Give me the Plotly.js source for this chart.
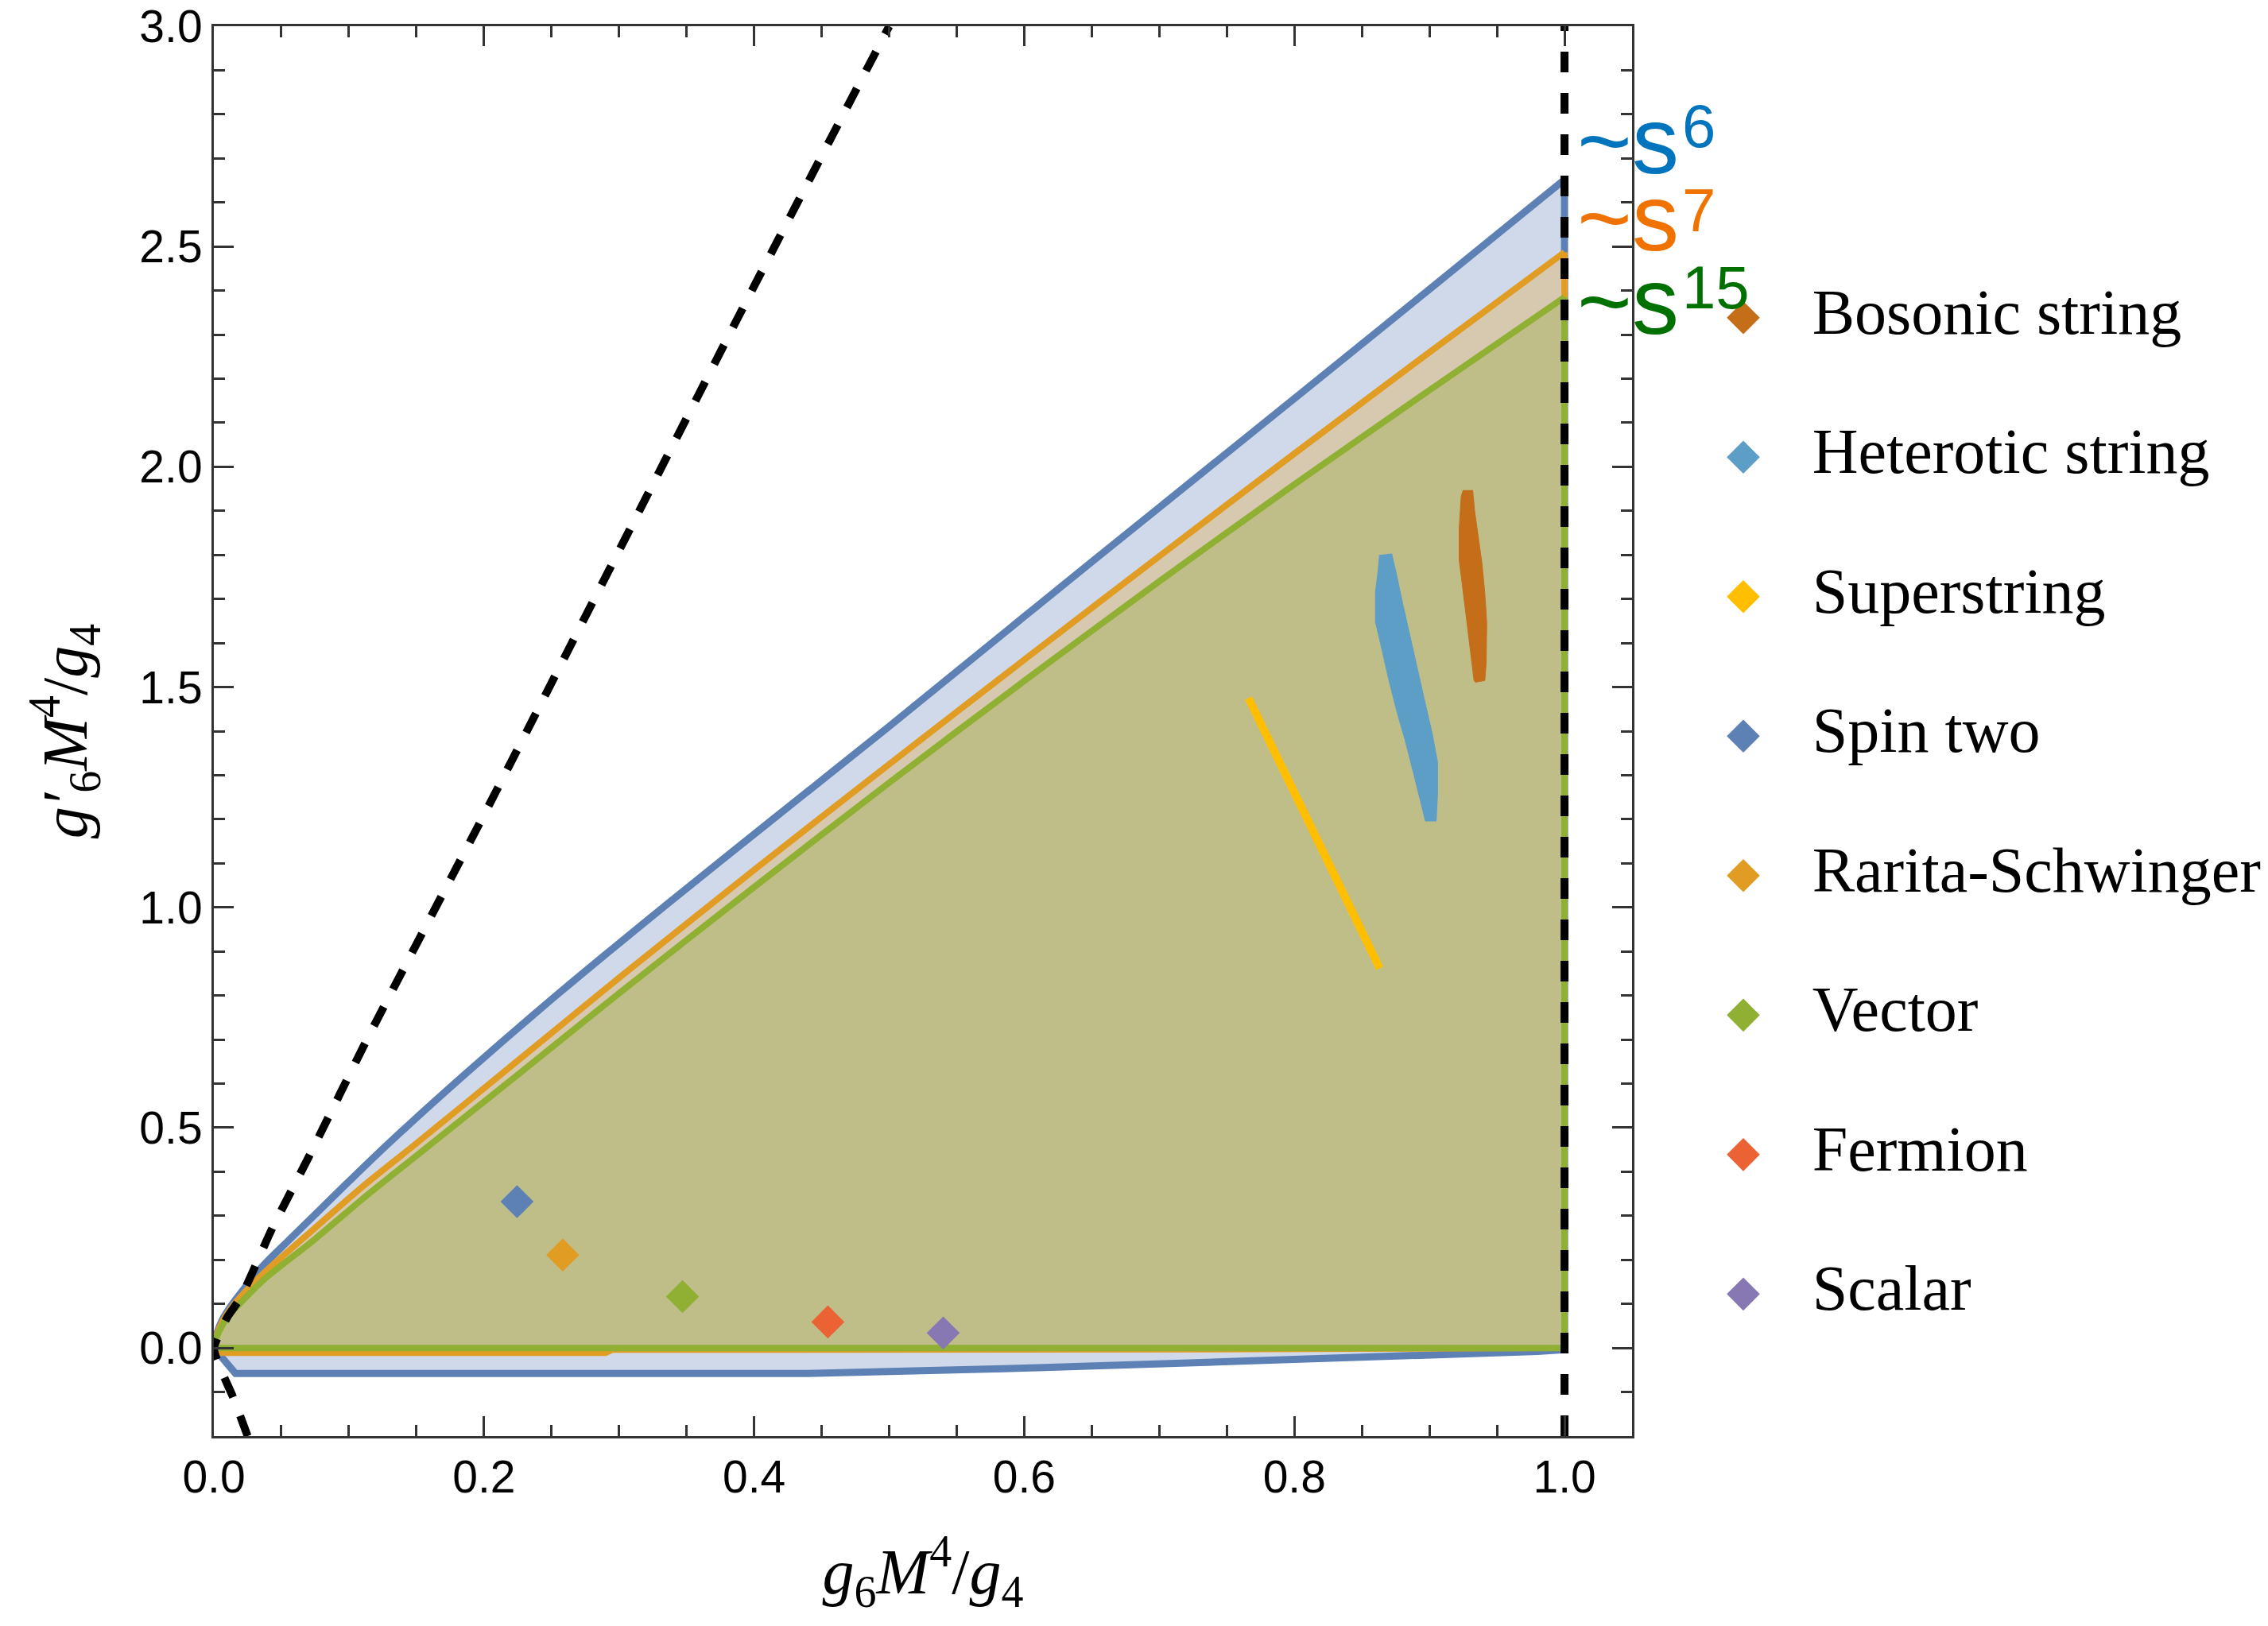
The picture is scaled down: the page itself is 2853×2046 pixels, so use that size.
<!DOCTYPE html>
<html>
<head>
<meta charset="utf-8">
<script src="https://cdn.plot.ly/plotly-3.0.1.min.js"></script>
<style>html,body{margin:0;padding:0;background:#fff;}#chart{width:2853px;height:2046px;}</style>
</head>
<body>
<div id="chart"></div>
<script>
// ---------- data ----------
// ~s^6 region (blue)
const s6UpperX = [0, 0.002, 0.006, 0.012, 0.02, 0.036, 0.055, 0.076, 0.1, 0.13, 0.187, 0.255, 0.337, 0.412, 0.5, 0.6, 0.7, 0.8, 0.9, 1.0];
const s6UpperY = [0, 0.03, 0.062, 0.092, 0.125, 0.185, 0.243, 0.306, 0.378, 0.466, 0.624, 0.804, 1.011, 1.1955, 1.411, 1.66, 1.908, 2.155, 2.403, 2.652];
const s6LowerX = [1.0, 0.98, 0.91, 0.76, 0.61, 0.5, 0.44, 0.016, 0];
const s6LowerY = [-0.004, -0.008, -0.016, -0.03, -0.045, -0.052, -0.058, -0.058, 0];
// ~s^7 region (orange)
const s7UpperX = [0, 0.002, 0.006, 0.012, 0.02, 0.037, 0.074, 0.11, 0.149, 0.225, 0.3, 0.4, 0.5, 0.6, 0.7, 0.8, 0.9, 1.0];
const s7UpperY = [0, 0.028, 0.058, 0.087, 0.117, 0.17, 0.27, 0.366, 0.462, 0.652, 0.84, 1.085, 1.325, 1.562, 1.797, 2.03, 2.26, 2.487];
const s7LowerX = [1.0, 0.74, 0.295, 0.29, 0.006, 0];
const s7LowerY = [0, -0.003, -0.004, -0.011, -0.011, 0];
// ~s^15 region (green)
const s15UpperX = [0, 0.002, 0.006, 0.012, 0.02, 0.037, 0.074, 0.11, 0.149, 0.225, 0.3, 0.4, 0.5, 0.6, 0.7, 0.8, 0.9, 1.0];
const s15UpperY = [0, 0.024, 0.05, 0.076, 0.103, 0.155, 0.245, 0.338, 0.434, 0.62, 0.805, 1.046, 1.283, 1.514, 1.74, 1.96, 2.174, 2.385];
const s15LowerX = [1.0, 0];
const s15LowerY = [0, 0];
// string theory regions
const bosonicX = [0.925, 0.9235, 0.922, 0.922, 0.924, 0.925, 0.928, 0.930, 0.931, 0.933, 0.934, 0.941, 0.942, 0.9424, 0.9418, 0.9409, 0.9389, 0.9359, 0.9334, 0.932];
const bosonicY = [1.947, 1.933, 1.860, 1.788, 1.740, 1.716, 1.636, 1.587, 1.563, 1.515, 1.511, 1.515, 1.555, 1.644, 1.676, 1.716, 1.780, 1.848, 1.901, 1.947];
const heteroticX = [0.863, 0.862, 0.860, 0.860, 0.864, 0.870, 0.876, 0.882, 0.888, 0.894, 0.897, 0.905, 0.906, 0.906, 0.902, 0.896, 0.890, 0.884, 0.880, 0.875, 0.872];
const heteroticY = [1.800, 1.764, 1.716, 1.648, 1.596, 1.515, 1.443, 1.379, 1.307, 1.234, 1.196, 1.196, 1.258, 1.330, 1.395, 1.475, 1.555, 1.636, 1.692, 1.764, 1.803];
const superX = [0.766, 0.8632];
const superY = [1.475, 0.8615];
// field theory points
const pointNames = ["Spin two", "Rarita-Schwinger", "Vector", "Fermion", "Scalar"];
const pointX = [0.2245, 0.2583, 0.347, 0.4546, 0.540];
const pointY = [0.332, 0.211, 0.1167, 0.059, 0.034];
const pointColors = ["#5e81b5", "#e19c24", "#8fb032", "#eb6235", "#8778b3"];
// dashed bounds
const dashCurveX = [0.025, 0.014, 0.006, 0.0015, 0, 0.003, 0.01, 0.02, 0.043, 0.07, 0.116, 0.2, 0.3, 0.4, 0.5];
const dashCurveY = [-0.2, -0.11, -0.055, -0.02, 0, 0.025, 0.07, 0.115, 0.27, 0.432, 0.716, 1.21, 1.81, 2.41, 3.0];
const dashVertX = [1, 1];
const dashVertY = [-0.2, 3.0];
// axis ticks
const xTickVals = [0, 0.2, 0.4, 0.6, 0.8, 1.0];
const xTickText = ["0.0", "0.2", "0.4", "0.6", "0.8", "1.0"];
const yTickVals = [0, 0.5, 1.0, 1.5, 2.0, 2.5, 3.0];
const yTickText = ["0.0", "0.5", "1.0", "1.5", "2.0", "2.5", "3.0"];
// growth labels
const growthBase = ["~s", "~s", "~s"];
const growthPower = ["6", "7", "15"];
const growthColors = ["rgb(0,116,188)", "rgb(240,114,0)", "rgb(0,112,0)"];
// legend
const legendNames = ["Bosonic string", "Heterotic string", "Superstring", "Spin two", "Rarita-Schwinger", "Vector", "Fermion", "Scalar"];
const legendColors = ["#c56e1a", "#5d9ec7", "#ffbf00", "#5e81b5", "#e19c24", "#8fb032", "#eb6235", "#8778b3"];
const legendIndex = [0, 1, 2, 3, 4, 5, 6, 7];

// ---------- traces ----------
function regionTraces(ux, uy, lx, ly, fill, line, w) {
  return [
    {x: ux.concat(lx), y: uy.concat(ly), type: 'scatter', mode: 'lines', fill: 'toself',
     fillcolor: fill, line: {width: 0}, hoverinfo: 'skip', showlegend: false},
    {x: [ux[ux.length - 1]].concat(lx), y: [uy[uy.length - 1]].concat(ly), type: 'scatter', mode: 'lines',
     line: {color: line, width: w}, hoverinfo: 'skip', showlegend: false},
    {x: ux, y: uy, type: 'scatter', mode: 'lines',
     line: {color: line, width: w, shape: 'spline', smoothing: 0.8}, hoverinfo: 'skip', showlegend: false}
  ];
}
const traces = [].concat(
  regionTraces(s6UpperX, s6UpperY, s6LowerX, s6LowerY, 'rgb(207,217,234)', '#5e81b5', 9),
  regionTraces(s7UpperX, s7UpperY, s7LowerX, s7LowerY, 'rgb(214,201,176)', '#e19c24', 8),
  regionTraces(s15UpperX, s15UpperY, s15LowerX, s15LowerY, 'rgb(191,190,137)', '#8fb032', 8),
  [
  {x: bosonicX, y: bosonicY, type: 'scatter', mode: 'lines', fill: 'toself', fillcolor: '#c56e1a',
   line: {color: '#c56e1a', width: 1}, showlegend: false},
  {x: heteroticX, y: heteroticY, type: 'scatter', mode: 'lines', fill: 'toself', fillcolor: '#5d9ec7',
   line: {color: '#5d9ec7', width: 1}, showlegend: false},
  {x: superX, y: superY, type: 'scatter', mode: 'lines', line: {color: '#ffbf00', width: 10}, showlegend: false},
  {x: pointX, y: pointY, text: pointNames, type: 'scatter', mode: 'markers',
   marker: {symbol: 'diamond', size: 32, color: pointColors, line: {width: 0}}, showlegend: false},
  {x: dashCurveX, y: dashCurveY, type: 'scatter', mode: 'lines',
   line: {color: '#000', width: 10, dash: '27px,25px', shape: 'spline', smoothing: 0.5}, showlegend: false},
  {x: dashVertX, y: dashVertY, type: 'scatter', mode: 'lines',
   line: {color: '#000', width: 10, dash: '26px,26px'}, showlegend: false},
  // custom legend
  {x: legendIndex.map(() => 0.063), y: legendIndex, type: 'scatter', mode: 'markers', xaxis: 'x2', yaxis: 'y2',
   marker: {symbol: 'diamond', size: 32, color: legendColors}, showlegend: false, hoverinfo: 'skip', cliponaxis: false},
  {x: legendIndex.map(() => 0.19), y: legendIndex, text: legendNames, type: 'scatter', mode: 'text',
   textposition: 'middle right', xaxis: 'x2', yaxis: 'y2', cliponaxis: false,
   textfont: {family: 'Liberation Serif, Times New Roman, serif', size: 80, color: '#000'},
   showlegend: false, hoverinfo: 'skip'}
  ]
);

const axisCommon = {
  showgrid: false, zeroline: false, showline: true, linecolor: '#333', linewidth: 3,
  mirror: 'allticks', ticks: 'inside', ticklen: 25, tickwidth: 3, tickcolor: '#333',
  tickfont: {family: 'Liberation Sans, Arial, sans-serif', size: 57, color: '#000'},
  tickmode: 'array', ticklabeloverflow: 'allow'
};

// growth label positions (y of text box bottom), in data units
const baseY = [2.655, 2.48, 2.291];
const powY = [2.717, 2.525, 2.35];
const annotations = [];
for (let i = 0; i < 3; i++) {
  annotations.push({xref: 'x', yref: 'y', x: 1.0, y: baseY[i], xanchor: 'left', yanchor: 'bottom', xshift: 14,
    height: 90, valign: 'middle',
    showarrow: false, text: growthBase[i], font: {family: 'Liberation Sans, Arial, sans-serif', size: 118, color: growthColors[i]}});
  annotations.push({xref: 'x', yref: 'y', x: 1.0, y: powY[i], xanchor: 'left', yanchor: 'bottom', xshift: 146,
    height: 60, valign: 'middle',
    showarrow: false, text: growthPower[i], font: {family: 'Liberation Sans, Arial, sans-serif', size: 76, color: growthColors[i]}});
}

const layout = {
  width: 2853, height: 2046,
  margin: {l: 269, r: 20, t: 33, b: 239},
  paper_bgcolor: '#fff', plot_bgcolor: '#fff',
  showlegend: false,
  xaxis: Object.assign({}, axisCommon, {
    domain: [0, 0.6958], range: [0, 1.05], tickvals: xTickVals, ticktext: xTickText,
    minor: {ticks: 'inside', tickmode: 'linear', tick0: 0, dtick: 0.05, ticklen: 14, tickwidth: 3, tickcolor: '#333'},
    title: {text: '<i>g</i><sub>6</sub><i>M</i><sup>4</sup>/<i>g</i><sub>4</sub>', standoff: 60,
            font: {family: 'Liberation Serif, Times New Roman, serif', size: 80, color: '#000'}}
  }),
  yaxis: Object.assign({}, axisCommon, {
    range: [-0.2, 3.0], tickvals: yTickVals, ticktext: yTickText,
    minor: {ticks: 'inside', tickmode: 'linear', tick0: 0, dtick: 0.1, ticklen: 14, tickwidth: 3, tickcolor: '#333'},
    title: {text: '<i>g′</i><sub>6</sub><i>M</i><sup>4</sup>/<i>g</i><sub>4</sub>', standoff: 40,
            font: {family: 'Liberation Serif, Times New Roman, serif', size: 80, color: '#000'}}
  }),
  xaxis2: {domain: [0.7336, 1], range: [0, 1], visible: false, fixedrange: true},
  yaxis2: {domain: [0, 1], range: [8.018, -2.09], visible: false, fixedrange: true, anchor: 'x2'},
  annotations: annotations
};

Plotly.newPlot('chart', traces, layout, {displayModeBar: false, staticPlot: true});
</script>
</body>
</html>
